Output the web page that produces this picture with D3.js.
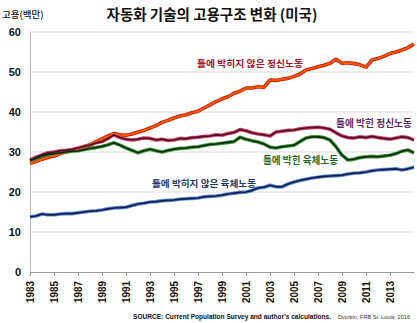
<!DOCTYPE html>
<html><head><meta charset="utf-8">
<script src="https://cdn.jsdelivr.net/npm/d3@7"></script>
<style>
html,body{margin:0;padding:0;background:#fff;}
svg{display:block;}
</style></head>
<body><svg id="c" width="417" height="323"></svg>
<script>
// half-year time points 1983.0 .. 2015.0
const years = d3.range(65).map(i => 1983 + i * 0.5);
const xTickLabels = ["1983","1985","1987","1989","1991","1993","1995","1997","1999","2001","2003","2005","2007","2009","2011","2013"];
const yTicks = [0,10,20,30,40,50,60];

const nonRoutineCognitive = [27.2,27.6,28.2,28.6,29.0,29.6,30.0,30.3,30.6,31.3,31.8,32.6,33.3,34.0,34.6,34.3,34.2,34.5,35.0,35.4,36.0,36.6,37.4,37.9,38.5,39.0,39.3,39.8,40.2,41.0,41.8,42.6,43.3,43.8,44.7,45.2,46.0,46.0,46.3,46.2,48.0,47.9,48.2,48.4,48.9,49.5,50.5,50.9,51.3,51.7,52.2,53.2,52.2,52.3,52.1,51.8,51.2,53.0,53.4,53.9,54.6,55.0,55.5,56.1,57.0];
const routineCognitive = [28.0,28.7,29.3,29.8,30.0,30.3,30.4,30.6,31.0,31.4,31.7,32.3,32.6,33.4,34.3,33.6,33.2,33.0,33.2,33.5,33.4,33.0,33.2,32.9,33.0,33.4,33.3,33.6,33.7,33.9,34.0,34.3,34.2,34.6,34.9,35.6,35.3,34.8,34.5,34.3,34.0,35.0,35.2,35.4,35.5,35.8,36.0,36.1,36.2,36.0,35.7,34.8,34.0,33.6,33.5,33.8,33.6,33.9,33.6,33.4,33.2,33.5,33.8,33.6,33.0];
const routineManual = [27.8,28.4,29.0,29.4,29.6,29.8,30.0,30.2,30.3,30.6,30.9,31.1,31.4,31.8,32.3,31.7,31.0,30.4,29.8,30.3,30.7,30.3,30.0,30.4,30.7,30.9,31.0,31.2,31.3,31.6,31.9,32.0,32.2,32.4,32.6,33.7,33.2,32.8,32.5,32.0,31.2,31.0,31.3,31.5,31.7,32.6,33.5,33.8,33.8,33.6,33.0,31.3,29.2,28.0,28.2,28.6,28.8,28.9,28.8,29.0,29.2,29.6,30.2,30.5,29.8];
const nonRoutineManual = [13.8,14.0,14.5,14.3,14.3,14.5,14.6,14.6,14.8,15.0,15.2,15.3,15.5,15.8,16.0,16.1,16.2,16.6,17.0,17.2,17.5,17.6,17.8,17.9,18.0,18.2,18.3,18.4,18.5,18.8,18.9,19.0,19.2,19.5,19.7,19.9,20.0,20.4,21.0,21.2,21.7,21.3,21.3,22.0,22.5,22.9,23.2,23.5,23.7,23.9,24.0,24.1,24.2,24.5,24.7,24.8,25.0,25.3,25.5,25.6,25.7,25.8,25.5,25.8,26.2];

const seriesNames = ["틀에 박히지 않은 정신노동","틀에 박힌 정신노동","틀에 박힌 육체노동","틀에 박히지 않은 육체노동"];
const seriesValues = [nonRoutineCognitive, routineCognitive, routineManual, nonRoutineManual];

const svg = d3.select("#c");
const margin = {left:30, right:3, top:32, bottom:51};
const W = 417, H = 323;
const x = d3.scaleLinear().domain([1983, 2015]).range([margin.left, W - margin.right]);
const y = d3.scaleLinear().domain([0, 60]).range([H - margin.bottom, margin.top]);

const KR = "'Noto Sans CJK KR','Noto Sans',sans-serif";
const NUM = "'Liberation Sans',Arial,sans-serif";

// title
svg.append("text").attr("x", 212).attr("y", 20).attr("text-anchor","middle")
  .attr("font-family", KR).attr("font-size", 14.5).attr("font-weight", 700).attr("fill","#111")
  .text("자동화 기술의 고용구조 변화 (미국)");
svg.append("text").attr("x", 2).attr("y", 18)
  .attr("font-family", KR).attr("font-size", 9.5).attr("font-weight", 500).attr("fill","#111")
  .text("고용(백만)");

// gridlines
svg.append("g").selectAll("line").data(yTicks.filter(d => d > 0)).join("line")
  .attr("x1", margin.left).attr("x2", W - margin.right)
  .attr("y1", d => y(d)).attr("y2", d => y(d))
  .attr("stroke", "#d9d9d9").attr("stroke-width", 1);

// y axis
const yAxis = svg.append("g").attr("transform", `translate(${margin.left},0)`)
  .call(d3.axisLeft(y).tickValues(yTicks).tickSize(0).tickPadding(9));
yAxis.select(".domain").attr("stroke", "#bfbfbf");
yAxis.selectAll("text").attr("font-family", NUM).attr("font-size", 11).attr("font-weight", 700).attr("fill","#111");

// x axis
const xAxis = svg.append("g").attr("transform", `translate(0,${y(0)})`)
  .call(d3.axisBottom(x).tickValues(xTickLabels.map(Number)).tickFormat(d => String(d)).tickSize(4).tickSizeOuter(0));
xAxis.select(".domain").attr("stroke", "#9a9a9a");
xAxis.selectAll(".tick line").attr("stroke", "#9a9a9a");
xAxis.selectAll("text")
  .attr("font-family", NUM).attr("font-size", 10).attr("font-weight", 700).attr("fill","#111")
  .attr("transform", "rotate(-90)").attr("text-anchor", "end")
  .attr("x", -9).attr("y", 0).attr("dy", "0.35em")
  .attr("textLength", 22).attr("lengthAdjust", "spacingAndGlyphs");

// lines
const outerColors = ["#c81e00", "#c9486c", "#3f9a3a", "#5d88c8"];
const innerColors = ["#ff5a0a", "#5a0c24", "#0c2a0c", "#0e1f50"];
const line = d3.line().x((d, i) => x(years[i])).y(d => y(d));
const order = [0, 1, 2, 3];
order.forEach(k => {
  svg.append("path").datum(seriesValues[k]).attr("d", line)
    .attr("fill","none").attr("stroke", outerColors[k]).attr("stroke-width", 3.6).attr("stroke-linejoin","round");
});
order.forEach(k => {
  svg.append("path").datum(seriesValues[k]).attr("d", line)
    .attr("fill","none").attr("stroke", innerColors[k]).attr("stroke-width", 1.7).attr("stroke-linejoin","round");
});

// series labels
const labelPos = [[197, 67], [336, 127], [263, 164], [152, 187]];
const labelWidths = [106, 76, 75, 104];
const labelSizes = [9.4, 10, 10, 9.3];
const labelColors = ["#a3122e", "#5b2a62", "#1f6b2a", "#1f3864"];
seriesNames.forEach((n, k) => {
  svg.append("text").attr("x", labelPos[k][0]).attr("y", labelPos[k][1])
    .attr("font-family", KR).attr("font-size", labelSizes[k]).attr("font-weight", 600)
    .attr("textLength", labelWidths[k]).attr("lengthAdjust", "spacingAndGlyphs")
    .attr("fill", labelColors[k]).text(n);
});

// source
svg.append("text").attr("x", 133).attr("y", 319)
  .attr("font-family", NUM).attr("font-size", 6.6).attr("font-weight", 700).attr("fill","#111")
  .attr("textLength", 198).attr("lengthAdjust", "spacingAndGlyphs")
  .text("SOURCE: Current Population Survey and author's calculations.");
svg.append("text").attr("x", 338).attr("y", 319)
  .attr("font-family", NUM).attr("font-size", 5.6).attr("fill","#333")
  .attr("textLength", 72).attr("lengthAdjust", "spacingAndGlyphs")
  .text("Dvorkin, FRB St. Louis, 2016");
</script></body></html>
